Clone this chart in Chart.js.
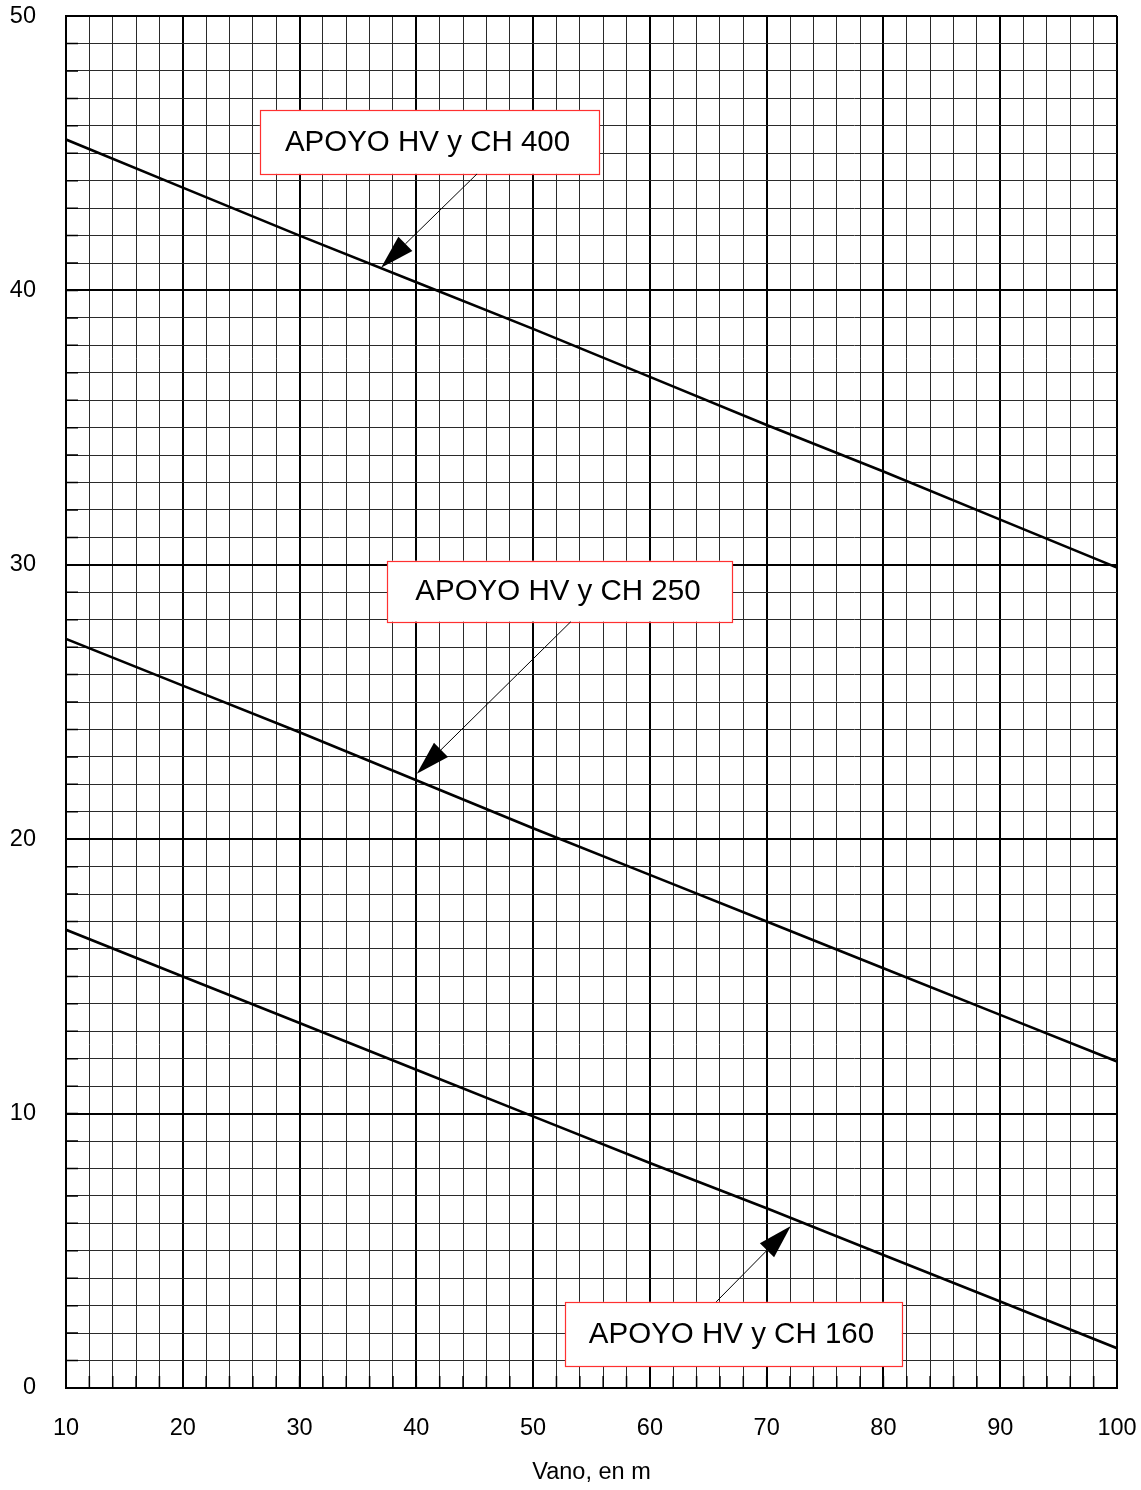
<!doctype html>
<html>
  <head>
    <meta charset="utf-8">
    <title>Apoyos HV y CH - vano</title>
    <style>
      html, body { margin: 0; padding: 0; background: #fff; }
      #wrap { width: 1141px; height: 1490px; }
    </style>
    <script src="https://cdn.jsdelivr.net/npm/chart.js@4.4.0/dist/chart.umd.min.js"></script>
  </head>
  <body>
    <div id="wrap"><canvas id="vanoChart" width="1141" height="1490"></canvas></div>
    <script>
    // vano (m) on x
    const vanos = [10, 20, 30, 40, 50, 60, 70, 80, 90, 100];
    const apoyo400 = [45.5, 43.75, 42.0, 40.3, 38.6, 36.85, 35.1, 33.4, 31.65, 29.9];
    const apoyo250 = [27.3, 25.6, 23.9, 22.15, 20.4, 18.7, 17.0, 15.3, 13.6, 11.9];
    const apoyo160 = [16.7, 15.0, 13.3, 11.6, 9.9, 8.2, 6.55, 4.85, 3.15, 1.45];
    const xLabels = [10, 20, 30, 40, 50, 60, 70, 80, 90, 100];
    const yLabels = [0, 10, 20, 30, 40, 50];

    // callout boxes, in data units
    const callouts = [
      {text: 'APOYO HV y CH 400', box: [26.6, 55.66, 46.58, 44.25], from: [45.2, 44.25], to: [36.98, 40.83]},
      {text: 'APOYO HV y CH 250', box: [37.52, 67.07, 30.15, 27.93], from: [53.23, 27.93], to: [40.04, 22.39]},
      {text: 'APOYO HV y CH 160', box: [52.74, 81.58, 3.14, 0.80], from: [65.68, 3.14], to: [72.07, 5.9]}
    ];

    const FONT = "'Liberation Sans', Arial, sans-serif";

    function pts(ys) {
	return vanos.map((v, i) => ({x: v, y: ys[i]}));
    }

    // short inner ticks along left and bottom edges
    const innerTicks = {
	id: 'innerTicks',
	beforeDatasetsDraw(chart) {
	    const {ctx, chartArea: a, scales: {x, y}} = chart;
	    ctx.save();
	    ctx.strokeStyle = '#000';
	    ctx.lineWidth = 1.5;
	    ctx.beginPath();
	    y.ticks.forEach(t => {
		const py = y.getPixelForValue(t.value);
		ctx.moveTo(a.left, py);
		ctx.lineTo(a.left + 12, py);
	    });
	    x.ticks.forEach(t => {
		const px = x.getPixelForValue(t.value);
		ctx.moveTo(px, a.bottom);
		ctx.lineTo(px, a.bottom - 12);
	    });
	    ctx.stroke();
	    ctx.restore();
	}
    };

    const calloutPlugin = {
	id: 'callouts',
	afterDatasetsDraw(chart) {
	    const {ctx, scales: {x, y}} = chart;
	    ctx.save();
	    callouts.forEach(c => {
		const l = x.getPixelForValue(c.box[0]), r = x.getPixelForValue(c.box[1]);
		const t = y.getPixelForValue(c.box[2]), b = y.getPixelForValue(c.box[3]);
		ctx.fillStyle = '#fff';
		ctx.fillRect(l, t, r - l, b - t);
		ctx.strokeStyle = '#ff3030';
		ctx.lineWidth = 1.2;
		ctx.strokeRect(Math.round(l) + 0.5, Math.round(t) + 0.5, Math.round(r - l), Math.round(b - t));
		ctx.fillStyle = '#000';
		ctx.font = '29.5px ' + FONT;
		ctx.textAlign = 'center';
		ctx.textBaseline = 'middle';
		ctx.fillText(c.text, (l + r) / 2 - 2, (t + b) / 2 + 1);

		// arrow
		const fx = x.getPixelForValue(c.from[0]), fy = y.getPixelForValue(c.from[1]);
		const tx = x.getPixelForValue(c.to[0]), ty = y.getPixelForValue(c.to[1]);
		const ang = Math.atan2(ty - fy, tx - fx);
		const len = 34, half = 10;
		const bx = tx - len * Math.cos(ang), by = ty - len * Math.sin(ang);
		ctx.strokeStyle = '#000';
		ctx.lineWidth = 1;
		ctx.beginPath();
		ctx.moveTo(fx, fy);
		ctx.lineTo(bx, by);
		ctx.stroke();
		ctx.beginPath();
		ctx.moveTo(tx, ty);
		ctx.lineTo(bx + half * Math.sin(ang), by - half * Math.cos(ang));
		ctx.lineTo(bx - half * Math.sin(ang), by + half * Math.cos(ang));
		ctx.closePath();
		ctx.fillStyle = '#000';
		ctx.fill();
	    });
	    ctx.restore();
	}
    };

    function lineSet(label, ys) {
	return {
	    label: label,
	    data: pts(ys),
	    borderColor: '#000',
	    borderWidth: 2.6,
	    pointRadius: 0,
	    fill: false,
	    tension: 0
	};
    }

    const gridColor = c => c.tick && c.tick.value % 10 === 0 ? '#000' : '#2a2a2a';
    const gridWidth = c => c.tick && c.tick.value % 10 === 0 ? 2 : 1;

    const ctx = document.getElementById('vanoChart');
    const chart = new Chart(ctx, {
	type: 'line',
	data: {
	    datasets: [
		lineSet('APOYO HV y CH 400', apoyo400),
		lineSet('APOYO HV y CH 250', apoyo250),
		lineSet('APOYO HV y CH 160', apoyo160)
	    ]
	},
	options: {
	    responsive: false,
	    animation: false,
	    layout: {padding: {left: 0, right: 24, top: 14, bottom: 0}},
	    plugins: {
		legend: {display: false},
		tooltip: {enabled: false}
	    },
	    scales: {
		x: {
		    type: 'linear',
		    min: 10,
		    max: 100,
		    afterFit: s => { s.height = 102; },
		    ticks: {
			stepSize: 2,
			autoSkip: false,
			maxRotation: 0,
			padding: 2,
			color: '#000',
			font: {family: FONT, size: 23.5},
			callback: v => xLabels.includes(v) ? String(v) : ''
		    },
		    grid: {
			drawTicks: true,
			tickLength: 24,
			tickColor: 'rgba(0,0,0,0)',
			color: gridColor,
			lineWidth: gridWidth
		    },
		    border: {color: '#000', width: 2},
		    title: {
			display: true,
			text: 'Vano, en m',
			color: '#000',
			font: {family: FONT, size: 23.5},
			padding: {top: 0, bottom: 3}
		    }
		},
		y: {
		    type: 'linear',
		    min: 0,
		    max: 50,
		    afterFit: s => { s.width = 66; },
		    ticks: {
			stepSize: 1,
			autoSkip: false,
			padding: 2,
			color: '#000',
			font: {family: FONT, size: 23.5},
			callback: v => yLabels.includes(v) ? String(v) : ''
		    },
		    grid: {
			drawTicks: true,
			tickLength: 28,
			tickColor: 'rgba(0,0,0,0)',
			color: gridColor,
			lineWidth: gridWidth
		    },
		    border: {color: '#000', width: 2}
		}
	    }
	},
	plugins: [innerTicks, calloutPlugin]
    });
    </script>
  </body>
</html>
